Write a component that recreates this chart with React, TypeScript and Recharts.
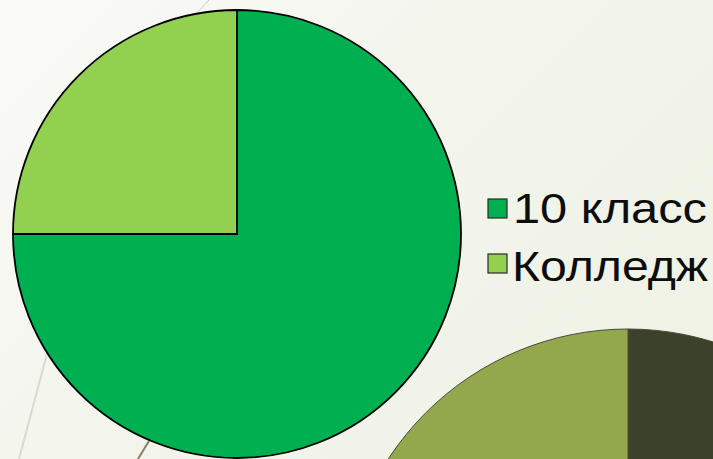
import React from 'react';
import { PieChart, Pie, Cell, Legend } from 'recharts';

const categories = ['10 класс', 'Колледж'];
const shares = [75, 25];
const colors = ['#00B050', '#92D050'];

const bgCategories = ['Фон 1', 'Фон 2'];
const bgShares = [50, 50];
const bgColors = ['#3B4229', '#93A84C'];

const data = categories.map((name, i) => ({ name, value: shares[i] }));
const bgData = bgCategories.map((name, i) => ({ name, value: bgShares[i] }));

const legendTextWidths = [194, 196];

function LegendContent() {
  return (
    <svg width={230} height={110} style={{ overflow: 'visible', display: 'block' }}>
      {categories.map((c, i) => (
        <g key={c}>
          <rect x={8} y={14 + i * 55} width={19} height={19} fill={colors[i]} stroke="#2a2a2a" strokeWidth={1.2} />
          <text
            x={i === 0 ? 33 : 32}
            y={38 + i * 58}
            fontFamily="'Liberation Sans', Arial, sans-serif"
            fontSize={42}
            fill="#0d0d0d"
            textLength={legendTextWidths[i]}
            lengthAdjust="spacingAndGlyphs"
          >
            {c}
          </text>
        </g>
      ))}
    </svg>
  );
}

export default function App() {
  return (
    <div
      style={{
        position: 'absolute',
        left: 0,
        top: 0,
        width: 713,
        height: 459,
        overflow: 'hidden',
        background: 'linear-gradient(135deg, #FAFAF7 0%, #F3F5EC 45%, #EEF1E3 100%)',
      }}
    >
      <svg width={713} height={459} style={{ position: 'absolute', left: 0, top: 0 }}>
        <line x1={209} y1={0} x2={196} y2={14} stroke="#C9C9C1" strokeWidth={1} />
        <line x1={48} y1={350} x2={19} y2={459} stroke="#DCD8CC" strokeWidth={2} />
        <line x1={152} y1={436} x2={138} y2={459} stroke="#8C7E66" strokeWidth={2} />
      </svg>
      <div style={{ position: 'absolute', left: 0, top: 0 }}>
        <PieChart width={713} height={459} margin={{ top: 0, right: 0, bottom: 0, left: 0 }}>
          <Pie
            data={bgData}
            dataKey="value"
            nameKey="name"
            cx={628}
            cy={615}
            outerRadius={286}
            startAngle={90}
            endAngle={-270}
            stroke="#4a4a3a"
            strokeWidth={1}
            isAnimationActive={false}
            legendType="none"
          >
            {bgData.map((d, i) => (
              <Cell key={d.name} fill={bgColors[i]} />
            ))}
          </Pie>
          <Pie
            data={data}
            dataKey="value"
            nameKey="name"
            cx={237}
            cy={234}
            outerRadius={224}
            startAngle={90}
            endAngle={-270}
            stroke="#000000"
            strokeWidth={1.8}
            isAnimationActive={false}
          >
            {data.map((d, i) => (
              <Cell key={d.name} fill={colors[i]} />
            ))}
          </Pie>
          <Legend
            layout="vertical"
            align="right"
            verticalAlign="middle"
            content={() => <LegendContent />}
            wrapperStyle={{ position: 'absolute', left: 480, top: 185, width: 230, height: 110 }}
          />
        </PieChart>
      </div>
    </div>
  );
}
